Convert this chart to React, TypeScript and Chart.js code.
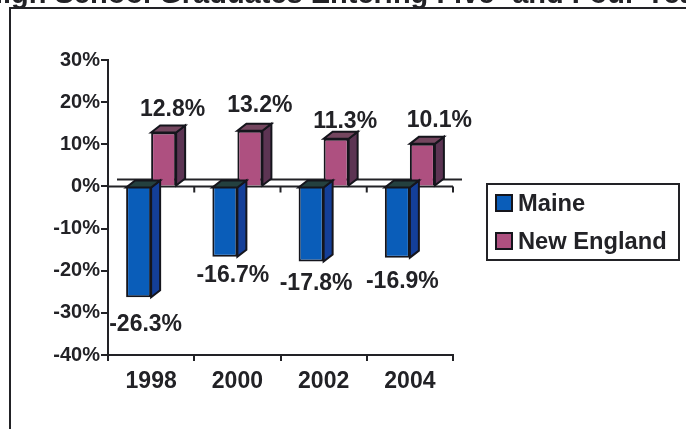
import React, { useEffect, useRef } from "react";
import { Chart, registerables } from "chart.js";

Chart.register(...registerables);

const categories = ["1998", "2000", "2002", "2004"];
const maineValues = [-26.3, -16.7, -17.8, -16.9];
const newEnglandValues = [12.8, 13.2, 11.3, 10.1];
const seriesNames = ["Maine", "New England"];
const titleText = "High School Graduates Entering Five- and Four-Year Colleges";

// Hand placement of the value labels, relative to the end of each bar
const maineLabelNudge = [[7, 27], [8, 19], [5, 22], [5, 24]];
const newEnglandLabelNudge = [[9, -23], [10, -25], [9, -17], [17, -23]];

const INK = "#222226";
const FONT = '"Liberation Sans", Arial, sans-serif';
const DX = 9;
const DY = 7;
const faces = [
  { front: "#0A5DB9", side: "#143F99", top: "#24403F" },
  { front: "#AE5080", side: "#5C3453", top: "#74465F" },
];

function poly(ctx: CanvasRenderingContext2D, pts: number[][], fill: string) {
  ctx.beginPath();
  pts.forEach((p, i) => (i ? ctx.lineTo(p[0], p[1]) : ctx.moveTo(p[0], p[1])));
  ctx.closePath();
  ctx.fillStyle = fill;
  ctx.fill();
  ctx.strokeStyle = "#15151c";
  ctx.lineWidth = 2;
  ctx.stroke();
}

const pagePlugin = {
  id: "page",
  beforeDraw(chart: any) {
    const ctx = chart.ctx;
    ctx.save();
    ctx.fillStyle = INK;
    ctx.font = `bold 29px ${FONT}`;
    ctx.textBaseline = "alphabetic";
    ctx.textAlign = "left";
    ctx.fillText(titleText, -18, 3);
    ctx.fillStyle = "#ffffff";
    ctx.fillRect(0, 8, 686, 421);
    ctx.strokeStyle = INK;
    ctx.lineWidth = 2;
    ctx.beginPath();
    ctx.moveTo(10, 429);
    ctx.lineTo(10, 8);
    ctx.lineTo(686, 8);
    ctx.stroke();
    ctx.restore();
  },
};

const floorPlugin = {
  id: "floor",
  beforeDatasetsDraw(chart: any) {
    const ctx = chart.ctx;
    const { x, y } = chart.scales;
    const zero = y.getPixelForValue(0);
    ctx.save();
    ctx.fillStyle = "#ffffff";
    ctx.beginPath();
    ctx.moveTo(x.left, zero);
    ctx.lineTo(x.left + DX, zero - DY);
    ctx.lineTo(x.right + DX, zero - DY);
    ctx.lineTo(x.right, zero);
    ctx.closePath();
    ctx.fill();
    ctx.strokeStyle = INK;
    ctx.lineWidth = 2;
    ctx.beginPath();
    ctx.moveTo(x.left + DX, zero - DY);
    ctx.lineTo(x.right + DX, zero - DY);
    ctx.moveTo(x.left, zero);
    ctx.lineTo(x.right, zero);
    categories.forEach((_, i) => {
      const edge = x.getPixelForValue(i) + (x.getPixelForValue(1) - x.getPixelForValue(0)) / 2;
      ctx.moveTo(edge, zero);
      ctx.lineTo(edge, zero + 6);
    });
    ctx.stroke();
    ctx.restore();
  },
};

const bars3dPlugin = {
  id: "bars3d",
  afterDatasetsDraw(chart: any) {
    const ctx = chart.ctx;
    ctx.save();
    chart.data.datasets.forEach((ds: any, d: number) => {
      const c = faces[d];
      chart.getDatasetMeta(d).data.forEach((bar: any) => {
        const l = bar.x - bar.width / 2;
        const r = bar.x + bar.width / 2;
        const upper = Math.min(bar.base, bar.y);
        const lower = Math.max(bar.base, bar.y);
        poly(ctx, [[r, upper], [r + DX, upper - DY], [r + DX, lower - DY], [r, lower]], c.side);
        poly(ctx, [[l, upper], [l + DX, upper - DY], [r + DX, upper - DY], [r, upper]], c.top);
      });
    });
    ctx.restore();
  },
};

const labelPlugin = {
  id: "valueLabels",
  afterDatasetsDraw(chart: any) {
    const ctx = chart.ctx;
    ctx.save();
    ctx.fillStyle = INK;
    ctx.font = `bold 23px ${FONT}`;
    ctx.textAlign = "center";
    ctx.textBaseline = "middle";
    chart.data.datasets.forEach((ds: any, d: number) => {
      const nudges = d === 0 ? maineLabelNudge : newEnglandLabelNudge;
      chart.getDatasetMeta(d).data.forEach((bar: any, i: number) => {
        ctx.fillText(`${ds.data[i].toFixed(1)}%`, bar.x + nudges[i][0], bar.y + nudges[i][1]);
      });
    });
    ctx.restore();
  },
};

const legendPlugin = {
  id: "legendBox",
  afterDraw(chart: any) {
    const ctx = chart.ctx;
    ctx.save();
    ctx.fillStyle = "#ffffff";
    ctx.strokeStyle = INK;
    ctx.lineWidth = 2;
    ctx.fillRect(487, 184, 192, 76);
    ctx.strokeRect(487, 184, 192, 76);
    ctx.font = `bold 23.7px ${FONT}`;
    ctx.textAlign = "left";
    ctx.textBaseline = "middle";
    seriesNames.forEach((name, i) => {
      const y = 195 + i * 38;
      ctx.fillStyle = faces[i].front;
      ctx.fillRect(496, y, 16, 16);
      ctx.strokeStyle = "#15151c";
      ctx.strokeRect(496, y, 16, 16);
      ctx.fillStyle = INK;
      ctx.fillText(name, 518, y + 9);
    });
    ctx.restore();
  },
};

export default function App() {
  const ref = useRef<HTMLCanvasElement>(null);
  useEffect(() => {
    document.body.style.margin = "0";
    const chart = new Chart(ref.current as HTMLCanvasElement, {
      type: "bar",
      data: {
        labels: categories,
        datasets: [
          {
            label: seriesNames[0],
            data: maineValues,
            backgroundColor: faces[0].front,
            borderColor: "#15151c",
            borderWidth: 2,
          },
          {
            label: seriesNames[1],
            data: newEnglandValues,
            backgroundColor: faces[1].front,
            borderColor: "#15151c",
            borderWidth: 2,
          },
        ],
      },
      options: {
        responsive: false,
        animation: false,
        layout: { padding: { top: 60, right: 233, bottom: 0, left: 0 } },
        datasets: { bar: { categoryPercentage: 0.58, barPercentage: 1 } },
        plugins: { legend: { display: false }, title: { display: false }, tooltip: { enabled: false } },
        scales: {
          x: {
            afterFit(s: any) {
              s.height = 74;
            },
            grid: { drawOnChartArea: false, color: INK, lineWidth: 2, tickLength: 6, offset: true },
            border: { color: INK, width: 2 },
            ticks: { color: INK, font: { family: FONT, size: 23, weight: "bold" }, padding: 7, maxRotation: 0 },
          },
          y: {
            min: -40,
            max: 30,
            afterFit(s: any) {
              s.width = 108;
            },
            grid: { drawOnChartArea: false, color: INK, lineWidth: 2, tickLength: 7 },
            border: { color: INK, width: 2 },
            ticks: {
              stepSize: 10,
              color: INK,
              font: { family: FONT, size: 20, weight: "bold" },
              padding: 1,
              callback: (v: any) => `${v}%`,
            },
          },
        },
      } as any,
      plugins: [pagePlugin, floorPlugin, bars3dPlugin, labelPlugin, legendPlugin],
    });
    return () => chart.destroy();
  }, []);
  return <canvas ref={ref} width={686} height={429} style={{ display: "block" }} />;
}
